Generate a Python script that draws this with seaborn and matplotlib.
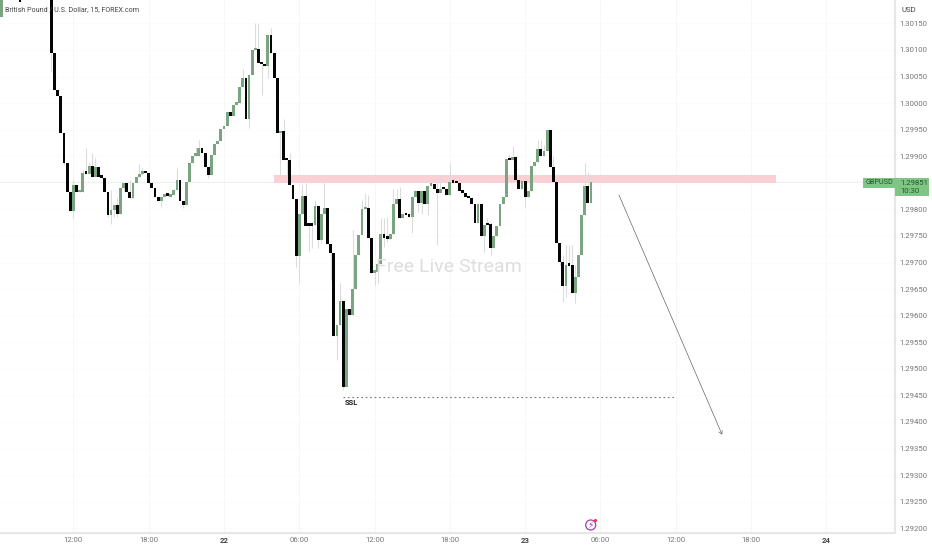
import numpy as np
import pandas as pd
import matplotlib
matplotlib.use("Agg")
import matplotlib.pyplot as plt
from matplotlib.patches import Rectangle, FancyArrowPatch
import seaborn as sns

first_bar = -71
pre_open = [1.30162,1.30215,1.30230,1.30240,1.30245,1.30250,1.30240,1.30215,1.30225,1.30240,1.30250,1.30260,1.30265,1.30255,1.30245,1.30230]
pre_close = [1.30215,1.30230,1.30240,1.30245,1.30250,1.30240,1.30190,1.30225,1.30240,1.30250,1.30260,1.30265,1.30255,1.30245,1.30230,1.30215]
main_open = [
 1.30210,1.30094,1.30025,1.30013,1.29944,1.29887,1.29832,1.29797,1.29846,1.29832,
 1.29832,1.29869,1.29867,1.29882,1.29860,1.29879,1.29860,1.29859,1.29832,1.29790,
 1.29799,1.29808,1.29791,1.29840,1.29849,1.29832,1.29821,1.29849,1.29860,1.29867,
 1.29869,1.29869,1.29850,1.29841,1.29823,1.29816,1.29824,1.29828,1.29824,1.29827,
 1.29837,1.29855,1.29815,1.29808,1.29852,1.29888,1.29901,1.29901,1.29916,1.29907,
 1.29879,1.29865,1.29902,1.29923,1.29928,1.29951,1.29957,1.29984,1.29976,1.29997,
 1.30001,1.30030,1.30047,1.29971,1.30053,1.30099,1.30102,1.30075,1.30073,1.30069,
 1.30128,1.30094,1.30048,1.29943,1.29948,1.29893,1.29892,1.29846,1.29819,1.29712,
 1.29792,1.29825,1.29770,1.29770,1.29770,1.29806,1.29742,1.29791,1.29802,1.29735,
 1.29718,1.29562,1.29582,1.29628,1.29465,1.29612,1.29601,1.29651,1.29714,1.29752,
 1.29800,1.29802,1.29747,1.29681,1.29683,1.29697,1.29754,1.29747,1.29745,1.29754,
 1.29811,1.29819,1.29783,1.29792,1.29790,1.29786,1.29823,1.29834,1.29812,1.29834,
 1.29810,1.29844,1.29847,1.29838,1.29830,1.29839,1.29838,1.29828,1.29851,1.29850,
 1.29849,1.29835,1.29831,1.29822,1.29821,1.29811,1.29775,1.29811,1.29749,1.29772,
 1.29772,1.29728,1.29750,1.29769,1.29810,1.29823,1.29894,1.29892,1.29898,1.29855,
 1.29838,1.29854,1.29823,1.29835,1.29881,1.29890,1.29913,1.29901,1.29910,1.29949,
 1.29879,1.29852,1.29737,1.29701,1.29656,1.29695,1.29695,1.29643,1.29672,1.29714,
 1.29789,1.29844,1.29812]
main_close = [
 1.30094,1.30025,1.30013,1.29944,1.29887,1.29832,1.29797,1.29846,1.29832,1.29834,
 1.29869,1.29867,1.29882,1.29860,1.29879,1.29860,1.29859,1.29832,1.29790,1.29799,
 1.29808,1.29791,1.29840,1.29849,1.29832,1.29821,1.29849,1.29860,1.29867,1.29869,
 1.29868,1.29850,1.29841,1.29823,1.29816,1.29824,1.29828,1.29826,1.29827,1.29837,
 1.29855,1.29815,1.29808,1.29852,1.29888,1.29901,1.29902,1.29916,1.29907,1.29879,
 1.29865,1.29902,1.29923,1.29928,1.29951,1.29957,1.29984,1.29976,1.29997,1.30001,
 1.30030,1.30047,1.29971,1.30053,1.30099,1.30102,1.30075,1.30073,1.30069,1.30128,
 1.30094,1.30048,1.29943,1.29948,1.29893,1.29892,1.29846,1.29820,1.29712,1.29792,
 1.29825,1.29769,1.29769,1.29769,1.29806,1.29742,1.29791,1.29802,1.29735,1.29718,
 1.29562,1.29582,1.29628,1.29465,1.29612,1.29601,1.29651,1.29714,1.29752,1.29800,
 1.29802,1.29747,1.29681,1.29683,1.29697,1.29754,1.29747,1.29745,1.29754,1.29811,
 1.29819,1.29783,1.29792,1.29789,1.29786,1.29823,1.29834,1.29812,1.29834,1.29810,
 1.29844,1.29847,1.29838,1.29830,1.29839,1.29838,1.29828,1.29851,1.29850,1.29849,
 1.29835,1.29831,1.29823,1.29821,1.29811,1.29775,1.29811,1.29749,1.29770,1.29770,
 1.29728,1.29750,1.29769,1.29810,1.29823,1.29894,1.29892,1.29898,1.29855,1.29838,
 1.29854,1.29823,1.29835,1.29881,1.29890,1.29913,1.29901,1.29910,1.29949,1.29879,
 1.29852,1.29737,1.29701,1.29656,1.29695,1.29694,1.29643,1.29672,1.29714,1.29789,
 1.29844,1.29812,1.29851]
high_bar = [7,10,11,12,13,14,15,19,21,25,28,29,40,46,47,61,65,66,70,74,76,80,81,84,87,92,96,99,100,101,105,106,107,109,110,111,115,116,121,123,124,127,139,140,146,147,155,156,157,160,163,164,165,166,167,170,171,172]
high_val = [1.29855,1.29874,1.29915,1.29887,1.29906,1.29896,1.29880,1.29837,1.29824,1.29855,1.29886,1.29877,1.29877,1.29918,1.29931,1.30065,1.30150,1.30151,1.30141,1.29971,1.29906,1.29846,1.29849,1.29818,1.29849,1.29661,1.29761,1.29818,1.29830,1.29827,1.29783,1.29783,1.29786,1.29839,1.29839,1.29843,1.29818,1.29836,1.29861,1.29865,1.29865,1.29885,1.29783,1.29777,1.29905,1.29919,1.29930,1.29930,1.29921,1.29900,1.29714,1.29733,1.29733,1.29733,1.29695,1.29888,1.29871,1.29865]
low_bar = [0,4,7,18,19,20,21,23,35,42,50,63,67,69,71,73,75,78,79,82,83,85,86,89,91,93,103,104,106,107,115,117,118,120,123,138,140,151,162,163,164,167]
low_val = [1.30059,1.29884,1.29783,1.29786,1.29773,1.29786,1.29786,1.29833,1.29805,1.29802,1.29859,1.29953,1.30015,1.30048,1.30047,1.29865,1.29858,1.29692,1.29661,1.29722,1.29727,1.29727,1.29736,1.29668,1.29517,1.29460,1.29658,1.29661,1.29730,1.29739,1.29755,1.29796,1.29792,1.29789,1.29733,1.29720,1.29714,1.29804,1.29695,1.29626,1.29636,1.29623]

x_tick_bars = [-48,-24,0,24,48,72,96,120,144,168,192]
x_tick_text = ["12:00","18:00","22","06:00","12:00","18:00","23","06:00","12:00","18:00","24"]
y_ticks = [1.3015,1.3010,1.3005,1.3000,1.2995,1.2990,1.2980,1.2975,1.2970,1.2965,1.2960,1.2955,1.2950,1.2945,1.2940,1.2935,1.2930,1.2925,1.2920]

zone_low, zone_high = 1.29849, 1.29865
zone_start, zone_end = 16, 176
ssl_level, ssl_start, ssl_end = 1.29447, 38, 143.4
last_price = 1.29851
arrow_from, arrow_to = (125.9, 1.29827), (158.8, 1.29376)

GREEN = "#7ba481"; BLACK = "#050505"; WICK = "#dcdcdc"; TXT = "#777777"

sns.set_style("white")
plt.rcParams["font.family"] = ["Roboto", "DejaVu Sans"]

o = np.array(pre_open + main_open); c = np.array(pre_close + main_close)
assert len(o) == len(c)
h = np.maximum(o, c); l = np.minimum(o, c)
off = len(pre_open)
for b, v in zip(high_bar, high_val): h[b + off] = max(h[b + off], v)
for b, v in zip(low_bar, low_val): l[b + off] = min(l[b + off], v)
bars = first_bar + np.arange(len(o))
df = pd.DataFrame(dict(bar=bars, open=o, close=c, high=h, low=l))
df["body"] = np.maximum((df.close - df.open).abs(), 0.00005)
df["base"] = df[["open", "close"]].min(axis=1)

fig = plt.figure(figsize=(9.32, 5.5), dpi=100, facecolor="white")
ax = fig.add_axes([0, 1 - 532.5 / 550, 895 / 932, 532.5 / 550])

ax.add_patch(Rectangle((zone_start, zone_low), zone_end - zone_start, zone_high - zone_low,
                       facecolor="#fbd0d5", edgecolor="none", zorder=1))
ax.axhline(last_price, color="#efefef", lw=0.8, zorder=0.9)
ax.vlines(df.bar, df.low, df.high, color=WICK, lw=0.8, zorder=2)
for sub, col in ((df[df.close >= df.open], GREEN), (df[df.close < df.open], BLACK)):
    sns.barplot(data=sub, x="bar", y="body", native_scale=True, color=col, saturation=1,
                errorbar=None, width=0.9, linewidth=0, bottom=sub["base"].values, ax=ax, zorder=3)

sns.lineplot(x=[ssl_start, ssl_end], y=[ssl_level, ssl_level], color="#777777", lw=0.8,
             linestyle=(0, (1.5, 2.5)), ax=ax, zorder=4)
ax.add_patch(FancyArrowPatch(arrow_from, arrow_to, arrowstyle="->,head_length=2.2,head_width=1.3",
                             color="#666666", lw=0.5, mutation_scale=1.0, shrinkA=0, shrinkB=0, zorder=4))

ax.set_xlim(-71.4, 213.9)
ax.set_ylim(1.29191 + 0.00001, 1.30194)
ax.set_xlabel(""); ax.set_ylabel("")
ax.set_xticks(x_tick_bars)
ax.set_xticklabels(x_tick_text)
ax.yaxis.tick_right()
ax.set_yticks(y_ticks)
ax.set_yticklabels([f"{v:.5f}" for v in y_ticks])
ax.tick_params(axis="both", length=0, labelsize=5.6, colors=TXT)
ax.tick_params(axis="x", pad=3.5)
ax.tick_params(axis="y", pad=3.5)
for t, s in zip(ax.get_xticklabels(), x_tick_text):
    if len(s) == 2:
        t.set_fontweight("bold"); t.set_color("#444444")
ax.grid(True, axis="x", color="#f6f6f6", lw=0.7)
ax.grid(True, axis="y", color="#fbfbfb", lw=0.7)
ax.set_axisbelow(True)
for s in ("top", "left"):
    ax.spines[s].set_visible(False)
ax.spines["right"].set_visible(True); ax.spines["bottom"].set_visible(True)
ax.spines["right"].set_color("#e6e6e6"); ax.spines["bottom"].set_color("#e6e6e6")
ax.spines["right"].set_linewidth(1.5); ax.spines["bottom"].set_linewidth(1.5)

def ftext(px, py, s, **kw):
    return fig.text(px / 932, 1 - py / 550, s, **kw)

ftext(5, 10, "British Pound / U.S. Dollar, 15, FOREX.com", fontsize=5.1, color="#444444", va="center", ha="left", zorder=6)
ftext(902, 10, "USD", fontsize=5.6, color="#444444", va="center")
ftext(448.5, 267.5, "Free Live Stream", fontsize=14, color="#dedede", va="center", ha="center")
ftext(351, 403, "SSL", fontsize=5.4, color="#222222", va="center", ha="center", fontweight="bold")

fig.patches.append(Rectangle((863 / 932, 1 - 188 / 550), 32 / 932, 10 / 550, transform=fig.transFigure, facecolor="#80c585", edgecolor="none"))
fig.patches.append(Rectangle((895 / 932, 1 - 196 / 550), 34 / 932, 18 / 550, transform=fig.transFigure, facecolor="#80c585", edgecolor="none"))
ftext(879, 183, "GBPUSD", fontsize=5.2, color="#1c5a26", va="center", ha="center")
ftext(900.5, 183, "1.29851", fontsize=5.6, color="#1c5a26", va="center", ha="left")
ftext(900.5, 191, "10:30", fontsize=5.6, color="#1c5a26", va="center", ha="left")

ax2 = fig.add_axes([0, 0, 1, 1], facecolor="none"); ax2.set_axis_off()
ax2.set_xlim(0, 932); ax2.set_ylim(550, 0)
ax2.scatter([590.7], [525], s=52, facecolor="none", edgecolor="#a63bb5", linewidth=0.9)
ax2.scatter([595], [520], s=5, color="#e53935", linewidth=0)
ax2.text(590.7, 525.3, "\u26a1", family="DejaVu Sans", fontsize=6.5, color="#a63bb5", ha="center", va="center")

fig.savefig("out.png", dpi=100)
